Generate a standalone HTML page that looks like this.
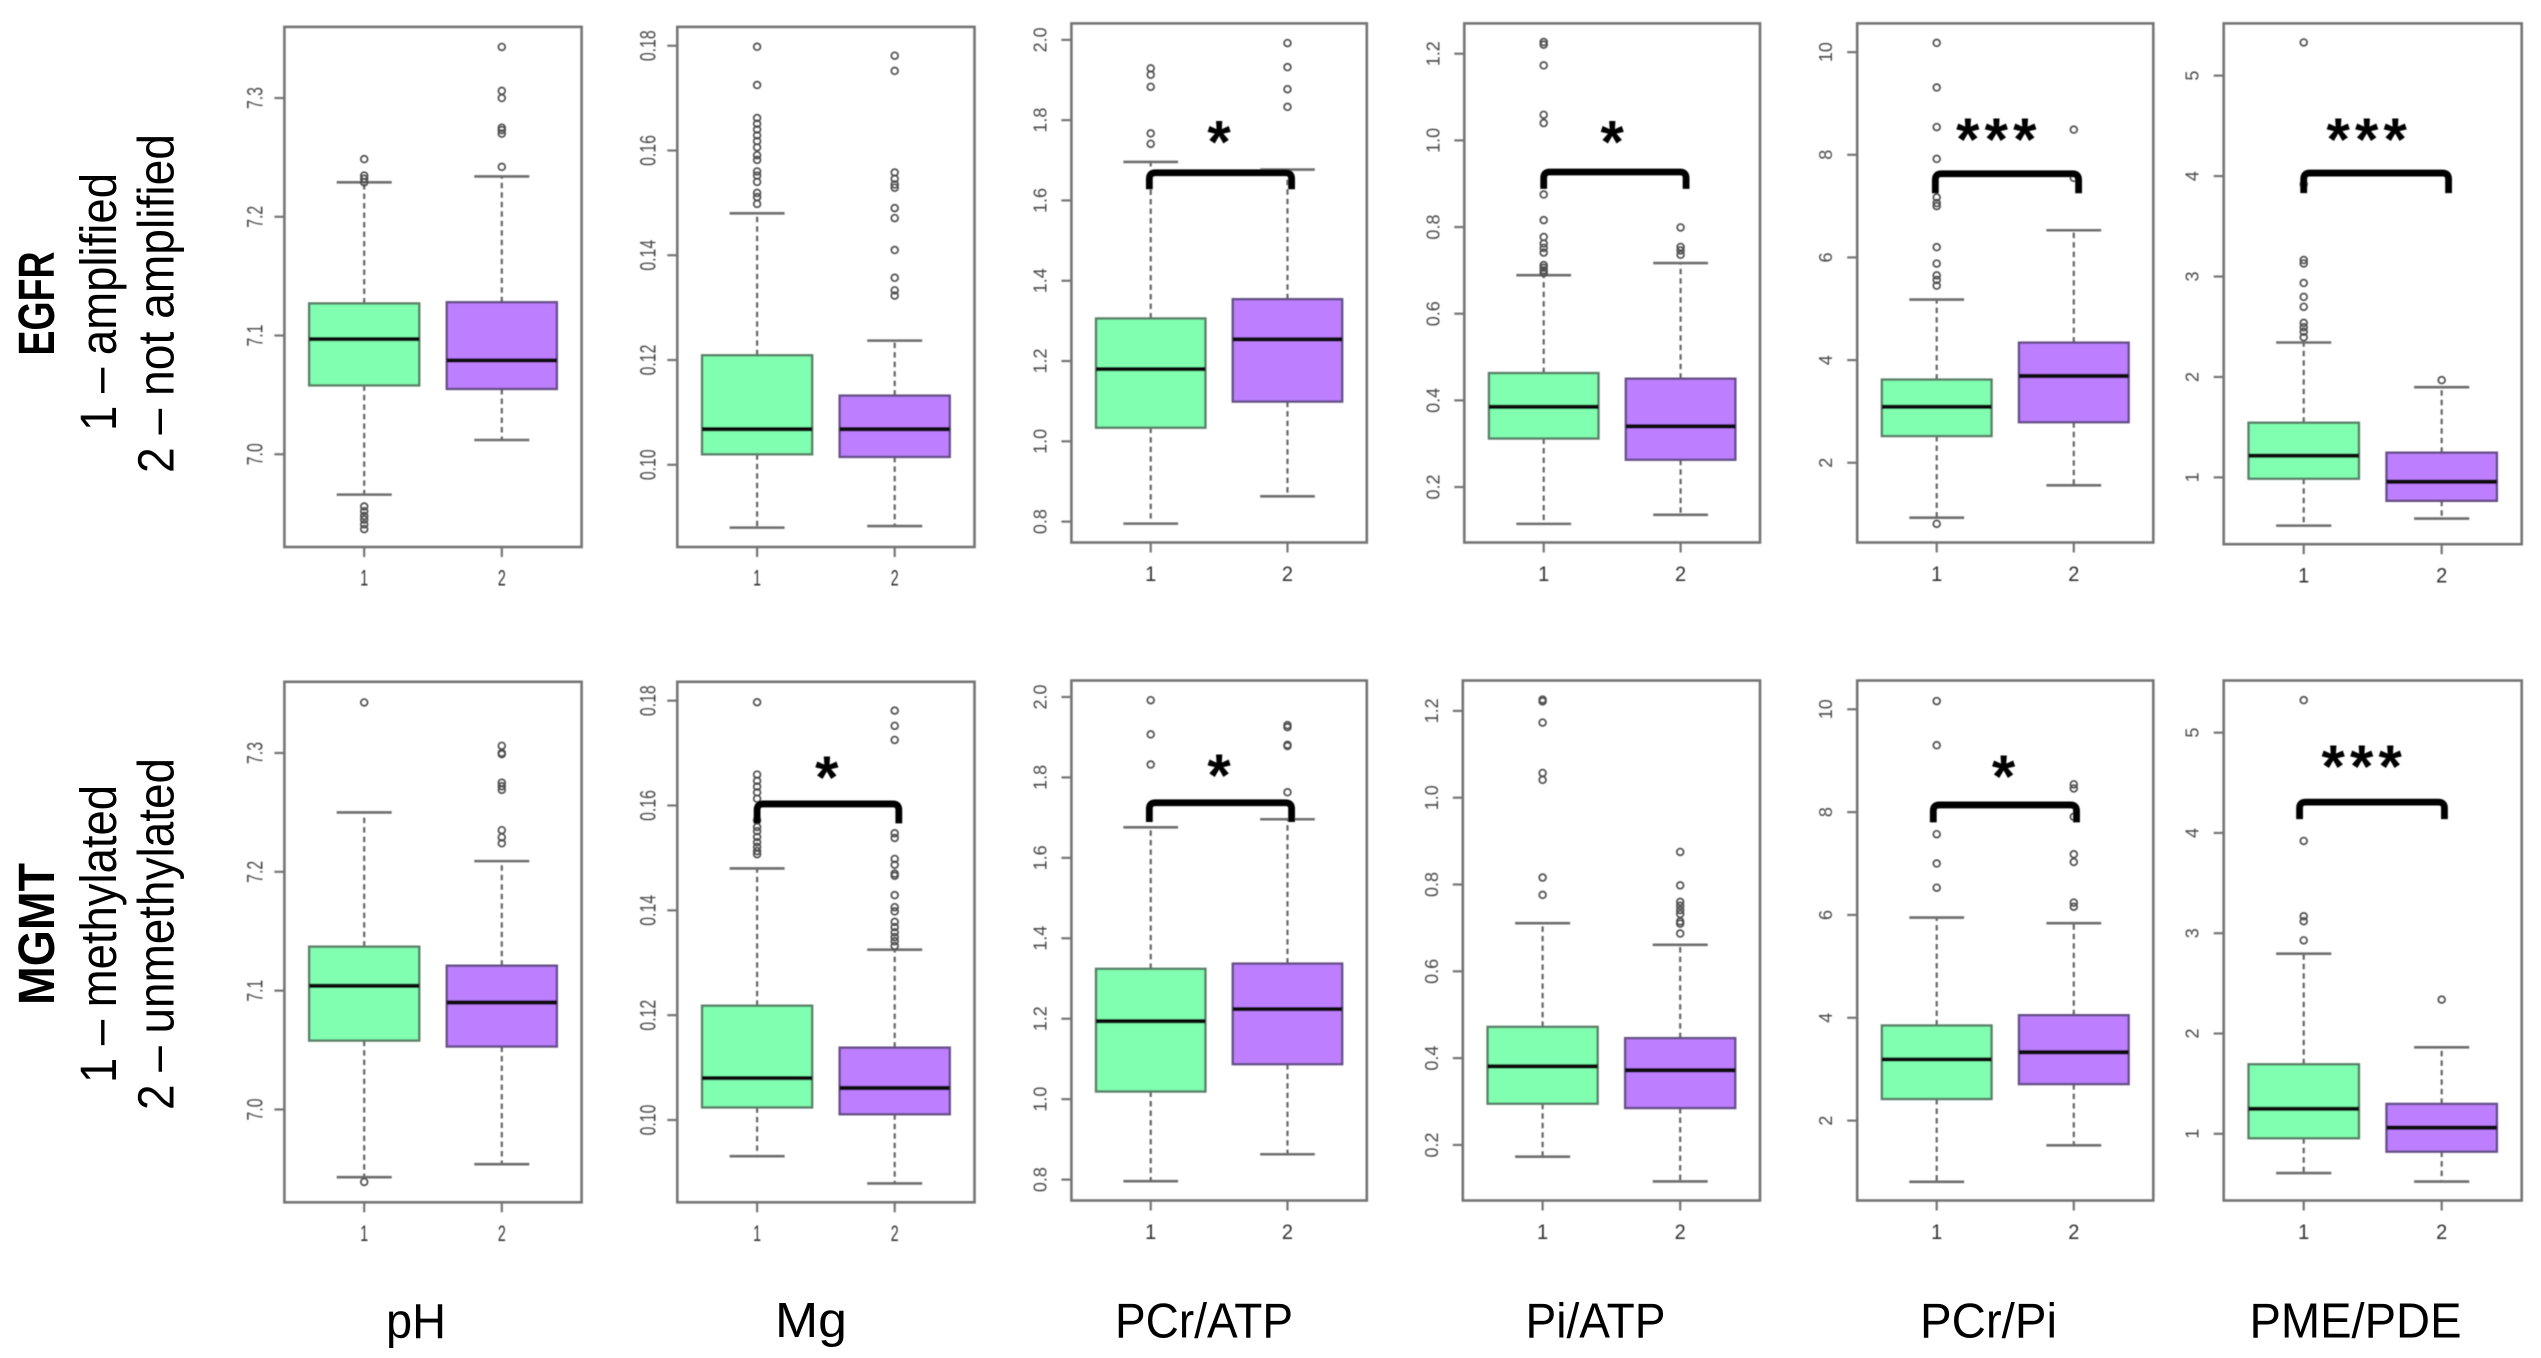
<!DOCTYPE html>
<html lang="en">
<head>
<meta charset="utf-8">
<title>EGFR and MGMT metabolite boxplots</title>
<style>
html,body{margin:0;padding:0;background:#fff;width:2541px;height:1358px;overflow:hidden}
svg{display:block}
text{font-family:"Liberation Sans",sans-serif}
</style>
</head>
<body>
<svg id="figure" xmlns="http://www.w3.org/2000/svg" width="2541" height="1358" viewBox="0 0 2541 1358">
  <defs>
    <filter id="soft" x="-2%" y="-2%" width="104%" height="104%"><feGaussianBlur stdDeviation="0.6"/></filter>
  </defs>
  <rect width="2541" height="1358" fill="#fff"/>
  <g id="plots" filter="url(#soft)"></g>
  <g fill="#000" font-size="51">
    <text transform="translate(54,303.5) rotate(-90)" text-anchor="middle" font-weight="bold" textLength="104" lengthAdjust="spacingAndGlyphs">EGFR</text>
    <text transform="translate(116,302) rotate(-90)" text-anchor="middle" textLength="258" lengthAdjust="spacingAndGlyphs">1 – amplified</text>
    <text transform="translate(173.5,303.5) rotate(-90)" text-anchor="middle" textLength="339" lengthAdjust="spacingAndGlyphs">2 – not amplified</text>
    <text transform="translate(54,934) rotate(-90)" text-anchor="middle" font-weight="bold" textLength="142" lengthAdjust="spacingAndGlyphs">MGMT</text>
    <text transform="translate(116,934) rotate(-90)" text-anchor="middle" textLength="298" lengthAdjust="spacingAndGlyphs">1 – methylated</text>
    <text transform="translate(173.5,934) rotate(-90)" text-anchor="middle" textLength="352" lengthAdjust="spacingAndGlyphs">2 – unmethylated</text>
  </g>
  <g fill="#000" font-size="49">
    <text x="386" y="1338" textLength="60" lengthAdjust="spacingAndGlyphs">pH</text>
    <text x="775" y="1337" textLength="72" lengthAdjust="spacingAndGlyphs">Mg</text>
    <text x="1115" y="1337.5" textLength="178" lengthAdjust="spacingAndGlyphs">PCr/ATP</text>
    <text x="1525.5" y="1337.5" textLength="140" lengthAdjust="spacingAndGlyphs">Pi/ATP</text>
    <text x="1920" y="1337.5" textLength="137" lengthAdjust="spacingAndGlyphs">PCr/Pi</text>
    <text x="2249.5" y="1337.5" textLength="212" lengthAdjust="spacingAndGlyphs">PME/PDE</text>
  </g>
</svg>
<script>
// ---------- categories and axis tick labels ----------
const categories = ['1', '2'];
const phTicks = ['7.0', '7.1', '7.2', '7.3'];
const mgTicks = ['0.10', '0.12', '0.14', '0.16', '0.18'];
const pcrAtpTicks = ['0.8', '1.0', '1.2', '1.4', '1.6', '1.8', '2.0'];
const piAtpTicks = ['0.2', '0.4', '0.6', '0.8', '1.0', '1.2'];
const pcrPiTicks = ['2', '4', '6', '8', '10'];
const pmePdeTicks = ['1', '2', '3', '4', '5'];

// ---------- value ranges of the y axes [bottom, top] ----------
const phRange = [6.9219, 7.3599];
const mgRange = [0.0843, 0.1836];
const pcrAtpRange = [0.748, 2.041];
const piAtpRange = [0.072, 1.27];
const pcrPiRange = [0.446, 10.56];
const pmePdeRange = [0.335, 5.52];

// ---------- box statistics per group: [low whisker, Q1, median, Q3, high whisker] ----------
const egfrPhStats = [[6.966, 7.058, 7.097, 7.127, 7.229], [7.012, 7.055, 7.079, 7.128, 7.234]];
const egfrPhOutliers = [[7.2485, 7.2347, 7.232, 7.229, 6.956, 6.952, 6.948, 6.945, 6.941, 6.937], [7.343, 7.306, 7.300, 7.275, 7.273, 7.270, 7.242]];

const egfrMgStats = [[0.088, 0.102, 0.1068, 0.1209, 0.148], [0.0883, 0.1015, 0.1068, 0.1132, 0.1237]];
const egfrMgOutliers = [[0.1798, 0.1725, 0.1662, 0.1651, 0.164, 0.1629, 0.1618, 0.1606, 0.1591, 0.1582, 0.156, 0.1552, 0.154, 0.1519, 0.1511, 0.1498], [0.1781, 0.1752, 0.1558, 0.1546, 0.1535, 0.1529, 0.149, 0.1471, 0.141, 0.1357, 0.1333, 0.1323]];

const egfrPcrAtpStats = [[0.795, 1.034, 1.18, 1.306, 1.696], [0.863, 1.099, 1.254, 1.354, 1.677]];
const egfrPcrAtpOutliers = [[1.929, 1.913, 1.883, 1.767, 1.741], [1.992, 1.932, 1.877, 1.833]];

const egfrPiAtpStats = [[0.115, 0.312, 0.385, 0.463, 0.689], [0.136, 0.263, 0.34, 0.45, 0.717]];
const egfrPiAtpOutliers = [[1.227, 1.221, 1.173, 1.059, 1.04, 0.875, 0.816, 0.777, 0.762, 0.752, 0.741, 0.712, 0.706, 0.7, 0.694], [0.799, 0.754, 0.746, 0.736]];

const egfrPcrPiStats = [[0.93, 2.52, 3.09, 3.62, 5.18], [1.56, 2.79, 3.69, 4.34, 6.53]];
const egfrPcrPiOutliers = [[10.18, 9.31, 8.54, 7.92, 7.17, 7.06, 7.0, 6.2, 5.88, 5.65, 5.56, 5.45, 0.81], [8.49, 7.55]];

const egfrPmePdeStats = [[0.52, 0.987, 1.216, 1.544, 2.343], [0.59, 0.767, 0.957, 1.246, 1.898]];
const egfrPmePdeOutliers = [[5.33, 3.92, 3.164, 3.13, 2.935, 2.797, 2.698, 2.538, 2.495, 2.45, 2.395], [1.968]];

const mgmtPhStats = [[6.943, 7.058, 7.104, 7.137, 7.25], [6.954, 7.053, 7.09, 7.121, 7.209]];
const mgmtPhOutliers = [[7.3425, 6.939], [7.306, 7.3, 7.299, 7.275, 7.272, 7.269, 7.235, 7.229, 7.224]];

const mgmtMgStats = [[0.0931, 0.1024, 0.108, 0.1218, 0.148], [0.0879, 0.1011, 0.1061, 0.1138, 0.1325]];
const mgmtMgOutliers = [[0.1797, 0.1659, 0.1647, 0.1636, 0.1625, 0.1613, 0.1572, 0.1559, 0.1551, 0.154, 0.153, 0.1521, 0.1513, 0.1507], [0.1781, 0.1752, 0.1725, 0.1547, 0.1538, 0.1498, 0.1487, 0.147, 0.1466, 0.1429, 0.1406, 0.1398, 0.1378, 0.1368, 0.1358, 0.1349, 0.1341, 0.1332]];

const mgmtPcrAtpStats = [[0.796, 1.019, 1.194, 1.324, 1.676], [0.863, 1.087, 1.224, 1.337, 1.696]];
const mgmtPcrAtpOutliers = [[1.992, 1.907, 1.832], [1.93, 1.925, 1.881, 1.878, 1.763]];

const mgmtPiAtpStats = [[0.173, 0.295, 0.381, 0.472, 0.711], [0.116, 0.285, 0.372, 0.446, 0.661]];
const mgmtPiAtpOutliers = [[1.226, 1.222, 1.173, 1.057, 1.041, 0.816, 0.776], [0.875, 0.798, 0.76, 0.751, 0.741, 0.732, 0.715, 0.71, 0.687]];

const mgmtPcrPiStats = [[0.81, 2.42, 3.19, 3.85, 5.95], [1.52, 2.71, 3.33, 4.05, 5.84]];
const mgmtPcrPiOutliers = [[10.16, 9.3, 7.57, 7.0, 6.53], [8.54, 8.46, 7.91, 7.18, 7.03, 6.24, 6.16]];

const mgmtPmePdeStats = [[0.609, 0.956, 1.249, 1.693, 2.796], [0.524, 0.822, 1.062, 1.298, 1.862]];
const mgmtPmePdeOutliers = [[5.324, 3.92, 3.169, 3.12, 2.929], [2.338]];

// ---------- significance annotations: [start category, end category, bracket level, bracket foot, star level, star category, star count] ----------
const egfrPcrAtpSig = [0.99, 2.03, 1.669, 1.628, 1.769, 1.5, 1];
const egfrPiAtpSig = [1.0, 2.04, 0.927, 0.888, 1.018, 1.5, 1];
const egfrPcrPiSig = [0.99, 2.035, 7.63, 7.25, 8.48, 1.435, 3];
const egfrPmePdeSig = [1.0, 2.05, 4.03, 3.83, 4.46, 1.456, 3];
const mgmtMgSig = [1.0, 2.03, 0.1603, 0.1566, 0.1672, 1.507, 1];
const mgmtPcrAtpSig = [0.99, 2.03, 1.737, 1.689, 1.828, 1.5, 1];
const mgmtPcrPiSig = [0.975, 2.02, 8.14, 7.8, 8.88, 1.488, 1];
const mgmtPmePdeSig = [0.97, 2.02, 4.307, 4.138, 4.756, 1.42, 3];

// ---------- panel definitions ----------
const panels = [
  {id: 'egfr-ph', x0: 284.4, x1: 581.6, y0: 26.9, y1: 547, range: phRange, ticks: phTicks, stats: egfrPhStats, outliers: egfrPhOutliers, sig: null, narrow: true},
  {id: 'egfr-mg', x0: 677.3, x1: 974.5, y0: 26.9, y1: 547, range: mgRange, ticks: mgTicks, stats: egfrMgStats, outliers: egfrMgOutliers, sig: null, narrow: true},
  {id: 'egfr-pcr-atp', x0: 1071.4, x1: 1366.8, y0: 23.4, y1: 542.5, range: pcrAtpRange, ticks: pcrAtpTicks, stats: egfrPcrAtpStats, outliers: egfrPcrAtpOutliers, sig: egfrPcrAtpSig},
  {id: 'egfr-pi-atp', x0: 1464.3, x1: 1760, y0: 23.4, y1: 542.5, range: piAtpRange, ticks: piAtpTicks, stats: egfrPiAtpStats, outliers: egfrPiAtpOutliers, sig: egfrPiAtpSig},
  {id: 'egfr-pcr-pi', x0: 1857.2, x1: 2153.3, y0: 23.4, y1: 542.5, range: pcrPiRange, ticks: pcrPiTicks, stats: egfrPcrPiStats, outliers: egfrPcrPiOutliers, sig: egfrPcrPiSig},
  {id: 'egfr-pme-pde', x0: 2223.7, x1: 2521.7, y0: 23.4, y1: 544.2, range: pmePdeRange, ticks: pmePdeTicks, stats: egfrPmePdeStats, outliers: egfrPmePdeOutliers, sig: egfrPmePdeSig},
  {id: 'mgmt-ph', x0: 284.4, x1: 581.6, y0: 681.8, y1: 1202.3, range: phRange, ticks: phTicks, stats: mgmtPhStats, outliers: mgmtPhOutliers, sig: null, narrow: true},
  {id: 'mgmt-mg', x0: 677.3, x1: 974.5, y0: 681.8, y1: 1202.3, range: mgRange, ticks: mgTicks, stats: mgmtMgStats, outliers: mgmtMgOutliers, sig: mgmtMgSig, narrow: true},
  {id: 'mgmt-pcr-atp', x0: 1071.4, x1: 1366.8, y0: 680.5, y1: 1200.5, range: pcrAtpRange, ticks: pcrAtpTicks, stats: mgmtPcrAtpStats, outliers: mgmtPcrAtpOutliers, sig: mgmtPcrAtpSig},
  {id: 'mgmt-pi-atp', x0: 1462.8, x1: 1760, y0: 680.5, y1: 1200.5, range: piAtpRange, ticks: piAtpTicks, stats: mgmtPiAtpStats, outliers: mgmtPiAtpOutliers, sig: null},
  {id: 'mgmt-pcr-pi', x0: 1857.2, x1: 2153.3, y0: 680.5, y1: 1200.5, range: pcrPiRange, ticks: pcrPiTicks, stats: mgmtPcrPiStats, outliers: mgmtPcrPiOutliers, sig: mgmtPcrPiSig},
  {id: 'mgmt-pme-pde', x0: 2223.7, x1: 2521.7, y0: 680.5, y1: 1200.5, range: pmePdeRange, ticks: pmePdeTicks, stats: mgmtPmePdeStats, outliers: mgmtPmePdeOutliers, sig: mgmtPmePdeSig}
];

// ---------- style constants ----------
const SVGNS = 'http://www.w3.org/2000/svg';
const FILLS = ['#80ffb0', '#bd7fff'];
const AXIS = '#747474';
const CAT_MIN = 0.42, CAT_MAX = 2.58, BOX_HALF = 0.4, STAPLE_HALF = 0.2;

function el(tag, attrs, parent) {
  const node = document.createElementNS(SVGNS, tag);
  for (const key in attrs) node.setAttribute(key, attrs[key]);
  parent.appendChild(node);
  return node;
}

const root = document.getElementById('plots');

panels.forEach(function (p) {
  const xScale = function (c) { return p.x0 + (c - CAT_MIN) / (CAT_MAX - CAT_MIN) * (p.x1 - p.x0); };
  const yScale = function (v) { return p.y1 - (v - p.range[0]) / (p.range[1] - p.range[0]) * (p.y1 - p.y0); };

  const g = el('g', {}, root);
  
  

  // y axis ticks and labels
  const labelOffset = p.narrow ? 22 : 25;
  p.ticks.forEach(function (label) {
    const y = yScale(parseFloat(label));
    const tick = el('line', {x1: p.x0 - 10, x2: p.x0, y1: y, y2: y, stroke: AXIS, 'stroke-width': 2.2}, g);
    
    
    const txt = el('text', {
      transform: 'translate(' + (p.x0 - labelOffset) + ',' + y + ') rotate(-90)' + (p.narrow ? ' scale(0.72,1)' : ''),
      'text-anchor': 'middle',
      'font-size': p.narrow ? 22 : 18,
      fill: '#4a4a4a'
    }, g);
    txt.textContent = label;
    
    
  });

  // groups
  categories.forEach(function (cat, i) {
    const c = parseFloat(cat);
    const s = p.stats[i];
    const cx = xScale(c);

    const xTick = el('line', {x1: cx, x2: cx, y1: p.y1, y2: p.y1 + 10, stroke: AXIS, 'stroke-width': 2.2}, g);
    
    
    const xLabel = el('text', {
      transform: 'translate(' + cx + ',' + (p.y1 + 38.5) + ')' + (p.narrow ? ' scale(0.75,1.15)' : ' scale(1,1.05)'),
      'text-anchor': 'middle',
      'font-size': p.narrow ? 19 : 20,
      fill: '#333'
    }, g);
    xLabel.textContent = cat;
    
    

    const whiskerLow = el('line', {x1: cx, x2: cx, y1: yScale(s[1]), y2: yScale(s[0]), stroke: '#666', 'stroke-width': 2.2, 'stroke-dasharray': '5.5 4'}, g);
    
    
    const whiskerHigh = el('line', {x1: cx, x2: cx, y1: yScale(s[3]), y2: yScale(s[4]), stroke: '#666', 'stroke-width': 2.2, 'stroke-dasharray': '5.5 4'}, g);
    
    
    const stapleLow = el('line', {x1: xScale(c - STAPLE_HALF), x2: xScale(c + STAPLE_HALF), y1: yScale(s[0]), y2: yScale(s[0]), stroke: '#6e6e6e', 'stroke-width': 2.6}, g);
    
    
    const stapleHigh = el('line', {x1: xScale(c - STAPLE_HALF), x2: xScale(c + STAPLE_HALF), y1: yScale(s[4]), y2: yScale(s[4]), stroke: '#6e6e6e', 'stroke-width': 2.6}, g);
    
    

    const box = el('rect', {
      x: xScale(c - BOX_HALF),
      y: yScale(s[3]),
      width: xScale(c + BOX_HALF) - xScale(c - BOX_HALF),
      height: yScale(s[1]) - yScale(s[3]),
      fill: FILLS[i],
      stroke: i === 0 ? '#5a8069' : '#665088',
      'stroke-width': 2.4
    }, g);
    
    

    const median = el('line', {x1: xScale(c - BOX_HALF), x2: xScale(c + BOX_HALF), y1: yScale(s[2]), y2: yScale(s[2]), stroke: '#0c0c0c', 'stroke-width': 4.2}, g);
    
    

    p.outliers[i].forEach(function (v) {
      const dot = el('circle', {cx: cx, cy: yScale(v), r: 3.4, fill: 'none', stroke: '#4f4f4f', 'stroke-width': 1.7}, g);
      
      
    });
  });

  // panel frame
  const frame = el('rect', {x: p.x0, y: p.y0, width: p.x1 - p.x0, height: p.y1 - p.y0, fill: 'none', stroke: AXIS, 'stroke-width': 2.6}, g);
  
  

  // significance annotation
  if (p.sig) {
    const bx0 = xScale(p.sig[0]), bx1 = xScale(p.sig[1]);
    const by = yScale(p.sig[2]), foot = yScale(p.sig[3]);
    const r = 6;
    const d = 'M' + bx0 + ' ' + foot + 'V' + (by + r) + 'Q' + bx0 + ' ' + by + ' ' + (bx0 + r) + ' ' + by +
      'H' + (bx1 - r) + 'Q' + bx1 + ' ' + by + ' ' + bx1 + ' ' + (by + r) + 'V' + foot;
    const bracket = el('path', {d: d, fill: 'none', stroke: '#000', 'stroke-width': 6.8}, g);
    
    

    const count = p.sig[6];
    const sx = xScale(p.sig[5]);
    const xs = [];
    for (let k = 0; k < count; k++) xs.push(sx + (k - (count - 1) / 2) * 28.5);
    const star = el('text', {x: xs.join(' '), y: yScale(p.sig[4]) + 30, 'text-anchor': 'middle', 'font-size': 60, 'font-weight': 'bold', fill: '#000'}, g);
    star.textContent = '*'.repeat(count);
    
    
  }
});
</script>
</body>
</html>
